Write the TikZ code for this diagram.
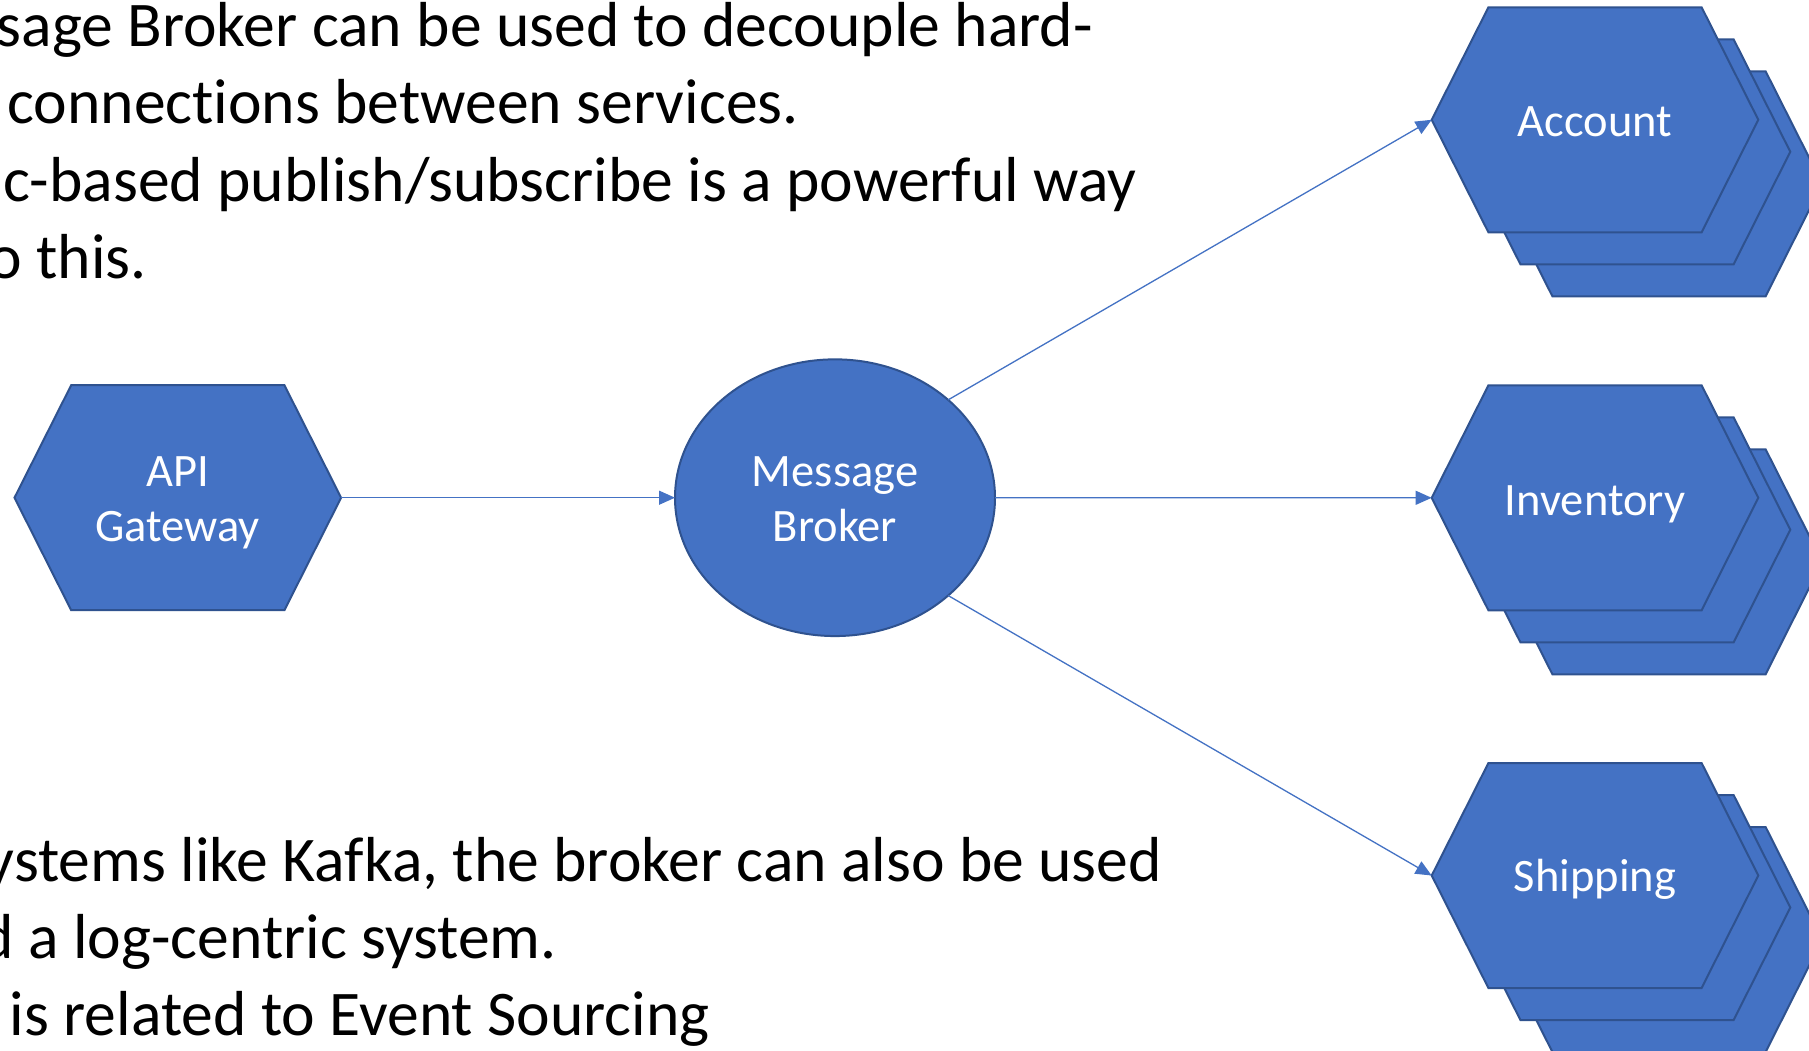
\documentclass[tikz,border=0pt]{standalone}
\usepackage{fontspec}
\setmainfont{Carlito}[Ligatures=NoCommon]
\usetikzlibrary{arrows.meta,shapes.geometric}
\definecolor{hexblue}{HTML}{4472C4}
\definecolor{hexedge}{HTML}{2F528F}

\begin{document}
\begin{tikzpicture}[x=1pt,y=-1pt,
  shapefill/.style={fill=hexblue, draw=hexedge, line width=2pt, line join=miter},
  hexnode/.style={rectangle, minimum width=326.7pt, minimum height=225pt, inner sep=0pt, outer sep=0pt},
  brokernode/.style={ellipse, shapefill, minimum width=320pt, minimum height=276.7pt, inner sep=0pt, outer sep=0pt},
  lbl/.style={anchor=base, inner sep=0pt, text=white, font=\fontsize{46.5}{55}\selectfont},
  body/.style={anchor=base east, inner sep=0pt, font=\fontsize{63.6}{77}\selectfont},
  link/.style={draw=hexblue, line width=1.3pt, -{Triangle[length=16pt,width=14pt]}},
  hex/.pic={\path[shapefill] (-163.3,0) -- (-106.6,-112.5) -- (106.6,-112.5)
      -- (163.3,0) -- (106.6,112.5) -- (-106.6,112.5) -- cycle;}
]
\useasboundingbox[fill=white] (0,0) rectangle (1809,1050);

% bullet text, top block
\node[body] (t1) at (1093,46.7)  {sage Broker can be used to decouple hard-};
\node[body] (t2) at (799,123.3)  {connections between services.};
\node[body] (t3) at (1137,201.7) {c-based publish/subscribe is a powerful way};
\node[body] (t4) at (147,278.3)  {o this.};

% bullet text, bottom block
\node[body] (b1) at (1162,881.7) {ystems like Kafka, the broker can also be used};
\node[body] (b2) at (557,958.3)  {d a log-centric system.};
\node[body] (b3) at (710,1035)   {is related to Event Sourcing};

% gateway
\pic at (177.8,497.7) {hex};
\node[hexnode] (api) at (177.8,497.7) {};
\node[lbl] (api-l1) at (177.8,486.7) {API};
\node[lbl] (api-l2) at (177.8,541.7) {Gateway};

% broker
\node[brokernode] (mb) at (835,497.7) {};
\node[lbl] (mb-l1) at (835,486.7) {Message};
\node[lbl] (mb-l2) at (835,541.7) {Broker};

% service stacks (back copies first)
\foreach \cy in {119.8,497.8,875.5}{
  \pic at (1659,\cy+64) {hex};
  \pic at (1627,\cy+32) {hex};
  \pic at (1595,\cy) {hex};
}
\node[hexnode] (acc) at (1595,119.8) {};
\node[hexnode] (inv) at (1595,497.8) {};
\node[hexnode] (shp) at (1595,875.5) {};
\node[lbl] (acc-l) at (1595,136.7) {Account};
\node[lbl] (inv-l) at (1595,515)   {Inventory};
\node[lbl] (shp-l) at (1595,891.7) {Shipping};

% connectors
\draw[link] (api.east) -- (mb.west);
\draw[link] (mb.north east) -- (acc.west);
\draw[link] (mb.east) -- (inv.west);
\draw[link] (mb.south east) -- (shp.west);
\end{tikzpicture}
\end{document}
